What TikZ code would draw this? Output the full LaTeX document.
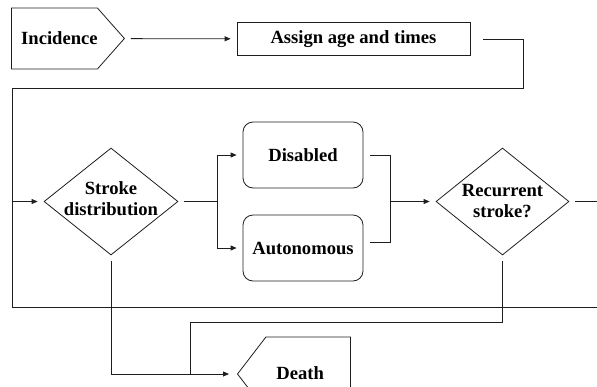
\documentclass[tikz,border=0pt]{standalone}
\usepackage{fontspec}
\setmainfont{Liberation Serif}
\usetikzlibrary{arrows.meta,positioning,calc,shapes.geometric,shapes.symbols}

\begin{document}
\begin{tikzpicture}[x=1pt,y=-1pt,
  every node/.style={inner sep=0pt}]
  \definecolor{flowline}{RGB}{30,30,30}
  \tikzset{
    boxtext/.style={font=\fontsize{18.6}{21}\selectfont\bfseries,
      text=black,align=center},
    endpoint/.style={shape=signal,draw=flowline,line width=0.8pt},
    process/.style={rectangle,draw=flowline,line width=0.8pt,
      minimum width=233pt,minimum height=33pt,boxtext},
    state/.style={rectangle,rounded corners=10pt,draw=flowline,
      line width=0.8pt,minimum width=120pt,minimum height=66pt,boxtext},
    decision/.style={diamond,draw=flowline,line width=0.8pt,
      minimum width=134pt,minimum height=107pt},
    link/.style={line width=0.8pt,draw=flowline,shorten <=6pt},
    transition/.style={link,-{Triangle[length=6pt,width=5pt]},
      shorten >=6pt}
  }
  \useasboundingbox (0,0) rectangle (597,386);
  \clip (0,0) rectangle (597,386);

  % Entry
  \node[endpoint,minimum width=113pt,minimum height=61pt,
    signal to=east,signal pointer angle=97,anchor=west,
    label={[boxtext,xshift=5pt]center:Incidence}]
    (incidence) at (11,38.5) {};
  \node[process] (assign) at (353.5,39) {Assign age and times};
  \draw[transition] (incidence) -- (assign);

  % Stroke and states
  \node[decision,
    label={[boxtext,yshift=3pt]center:Stroke\\distribution}]
    (stroke) at (111,201.5) {};
  \node[state] (disabled) at (303,155) {Disabled};
  \node[state] (autonomous) at (303,248) {Autonomous};
  \node[decision,minimum width=133pt,
    label={[boxtext]center:Recurrent\\stroke?}]
    (recurrent) at (502.5,201.5) {};

  % Exit
  \node[endpoint,minimum width=113pt,minimum height=74pt,
    signal to=west,signal pointer angle=105,anchor=west,
    label={[boxtext,xshift=-8pt,yshift=1pt]center:Death}]
    (death) at (237,374) {};

  % Loops into stroke distribution
  \coordinate (topturn) at (523,88);
  \coordinate (leftrail) at (12,201.5);
  \coordinate (bottomturn) at (605,307);
  \draw[link,shorten <=13pt] (assign.east) -| (topturn) -| (leftrail);
  \draw[link] (recurrent.east) -| (bottomturn) -| (leftrail);
  \draw[transition,shorten <=0pt] (leftrail) -- (stroke.west);

  % Branches
  \coordinate (split) at (217,201.5);
  \coordinate (merge) at (390,201.5);
  \draw[link] (stroke.east) -- (split);
  \draw[transition,shorten <=0pt] (split) |- (disabled.west);
  \draw[transition,shorten <=0pt] (split) |- (autonomous.west);
  \draw[link,shorten <=7pt] (disabled.east) -| (merge);
  \draw[link,shorten <=7pt] ([yshift=6pt]autonomous.east) -| (merge);
  \draw[transition,shorten <=0pt] (merge) -- (recurrent.west);

  % Death
  \coordinate (deathdrop) at (190,322);
  \draw[transition,shorten >=8pt] (stroke.south) |- (death.west);
  \draw[link] (recurrent.south) |- (deathdrop) -- (deathdrop |- death.west);
\end{tikzpicture}
\end{document}
